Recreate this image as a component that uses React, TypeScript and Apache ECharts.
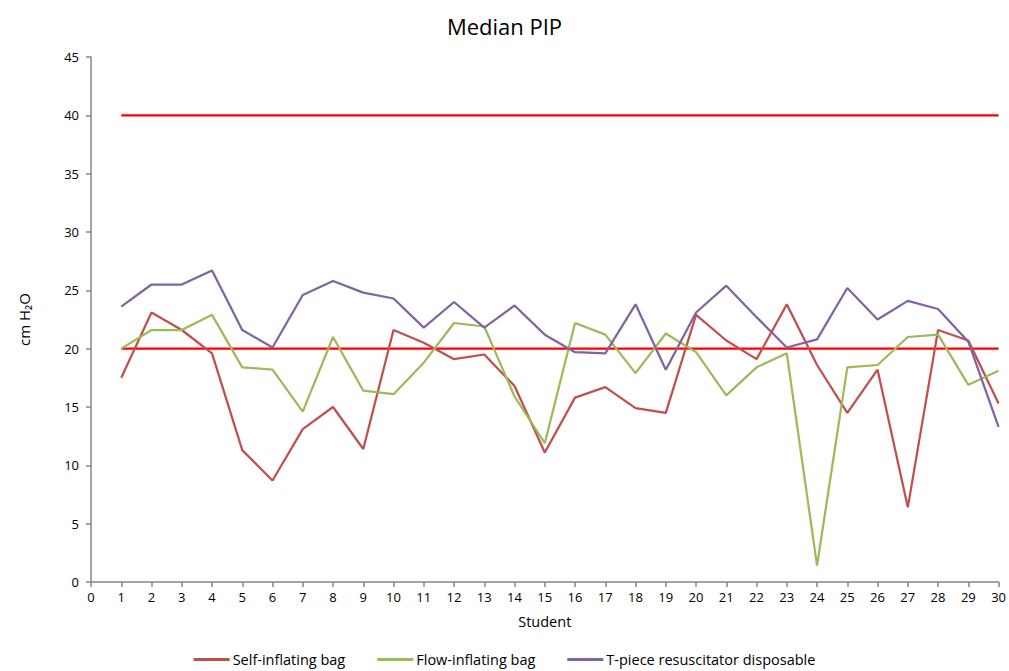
import React, { useEffect, useRef } from "react";
import * as echarts from "echarts";

const students = [1, 2, 3, 4, 5, 6, 7, 8, 9, 10, 11, 12, 13, 14, 15, 16, 17, 18, 19, 20, 21, 22, 23, 24, 25, 26, 27, 28, 29, 30];
const selfInflating = [17.5, 23.1, 21.6, 19.6, 11.3, 8.7, 13.1, 15.0, 11.4, 21.6, 20.5, 19.1, 19.5, 16.8, 11.1, 15.8, 16.7, 14.9, 14.5, 22.9, 20.7, 19.1, 23.8, 18.6, 14.5, 18.2, 6.4, 21.6, 20.7, 15.3];
const flowInflating = [20.0, 21.6, 21.6, 22.9, 18.4, 18.2, 14.6, 21.0, 16.4, 16.1, 18.8, 22.2, 21.9, 15.9, 11.9, 22.2, 21.2, 17.9, 21.3, 19.7, 16.0, 18.4, 19.6, 1.4, 18.4, 18.6, 21.0, 21.2, 16.9, 18.1];
const tPiece = [23.6, 25.5, 25.5, 26.7, 21.6, 20.1, 24.6, 25.8, 24.8, 24.3, 21.8, 24.0, 21.8, 23.7, 21.2, 19.7, 19.6, 23.8, 18.2, 23.1, 25.4, 22.7, 20.1, 20.8, 25.2, 22.5, 24.1, 23.4, 20.6, 13.3];
const limitLow = 20;
const limitHigh = 40;
const seriesNames = ["Self-inflating bag", "Flow-inflating bag", "T-piece resuscitator disposable"];

const FONT = "'Open Sans', 'Liberation Sans', sans-serif";

export default function App() {
  const ref = useRef<HTMLDivElement>(null);
  useEffect(() => {
    if (!ref.current) return;
    const chart = echarts.init(ref.current, undefined, { renderer: "svg" });
    const pair = (vals: number[]) => students.map((s, i) => [s, vals[i]]);
    const first = students[0];
    const last = students[students.length - 1];
    const axisColor = "#868686";
    chart.setOption({
      animation: false,
      backgroundColor: "#ffffff",
      textStyle: { fontFamily: FONT },
      title: {
        text: "Median PIP",
        left: "center",
        top: 10,
        textStyle: { fontFamily: FONT, fontSize: 22, fontWeight: "normal", color: "#000" },
      },
      legend: {
        data: seriesNames,
        top: 652,
        left: "center",
        padding: 0,
        icon: "rect",
        itemWidth: 36,
        itemHeight: 3,
        itemGap: 32,
        textStyle: { fontFamily: FONT, fontSize: 14.5, color: "#000", padding: [0, 0, 0, -2] },
      },
      grid: { left: 91, right: 7, top: 57, bottom: 89, containLabel: false },
      xAxis: {
        type: "value",
        min: 0,
        max: 30,
        interval: 1,
        name: "Student",
        nameLocation: "middle",
        nameGap: 32,
        nameTextStyle: { fontFamily: FONT, fontSize: 14.5, color: "#000" },
        axisLine: { show: true, onZero: false, lineStyle: { color: axisColor, width: 1.5 } },
        axisTick: { show: true, inside: false, length: 5, lineStyle: { color: axisColor, width: 1.5 } },
        axisLabel: { fontFamily: FONT, fontSize: 13, color: "#000", margin: 8 },
        splitLine: { show: false },
      },
      yAxis: {
        type: "value",
        min: 0,
        max: 45,
        interval: 5,
        name: "cm H₂O",
        nameLocation: "middle",
        nameRotate: 90,
        nameGap: 60,
        nameTextStyle: { fontFamily: FONT, fontSize: 15, color: "#000" },
        axisLine: { show: true, lineStyle: { color: axisColor, width: 1.5 } },
        axisTick: { show: true, inside: false, length: 5, lineStyle: { color: axisColor, width: 1.5 } },
        axisLabel: { fontFamily: FONT, fontSize: 13, color: "#000", margin: 12 },
        splitLine: { show: false },
      },
      series: [
        {
          name: seriesNames[0],
          type: "line",
          data: pair(selfInflating),
          showSymbol: false,
          symbol: "none",
          color: "#C0504D",
          lineStyle: { width: 2.25, color: "#C0504D" },
        },
        {
          name: seriesNames[1],
          type: "line",
          data: pair(flowInflating),
          showSymbol: false,
          symbol: "none",
          color: "#9BBB59",
          lineStyle: { width: 2.25, color: "#9BBB59" },
        },
        {
          name: seriesNames[2],
          type: "line",
          data: pair(tPiece),
          showSymbol: false,
          symbol: "none",
          color: "#8064A2",
          lineStyle: { width: 2.25, color: "#8064A2" },
        },
        {
          name: "Lower limit",
          type: "line",
          data: [[first, limitLow], [last, limitLow]],
          symbol: "none",
          color: "#FF0000",
          lineStyle: { width: 2.25, color: "#FF0000" },
          z: 1,
        },
        {
          name: "Upper limit",
          type: "line",
          data: [[first, limitHigh], [last, limitHigh]],
          symbol: "none",
          color: "#FF0000",
          lineStyle: { width: 2.25, color: "#FF0000" },
          z: 1,
        },
      ],
    });
    return () => chart.dispose();
  }, []);
  return <div ref={ref} style={{ position: "fixed", left: 0, top: 0, width: 1009, height: 671 }} />;
}
